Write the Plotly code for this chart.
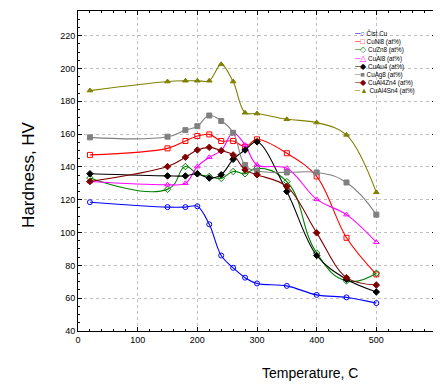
import plotly.graph_objects as go

temps = [20, 150, 180, 200, 220, 240, 260, 280, 300, 350, 400, 450, 500]

names = ["Čist Cu", "CuNi8 (at%)", "CuZn8 (at%)", "CuAl8 (at%)",
         "CuAu4 (at%)", "CuAg8 (at%)", "CuAl4Zn4 (at%)", "CuAl4Sn4 (at%)"]

cist_cu = [118.5, 115.5, 115.5, 116, 105, 86, 78.5, 72.5, 69, 67.5, 62, 60.5, 57]
cuni8 = [147.3, 151.3, 155.8, 158.8, 159.8, 155.8, 155.8, 152.3, 156.8, 148.3, 134.2, 96.8, 74.5]
cuzn8 = [133.2, 126.3, 140.2, 135.8, 134.2, 133, 137.2, 135.8, 139.2, 131, 87.5, 70.5, 75.2]
cual8 = [131.1, 129.1, 130, 140.2, 145.9, 149.9, 160.8, 153.3, 141.2, 139.2, 120.2, 110.9, 94.1]
cuau4 = [135.8, 134.5, 134.5, 135.8, 133.2, 135.2, 144.6, 150.3, 155.3, 125, 86, 71.5, 63.8]
cuag8 = [158, 158.4, 162.4, 164.8, 171.3, 168, 160.8, 141.2, 137.6, 136.6, 136.6, 130.5, 110.9]
cual4zn4 = [131.1, 140.2, 145.9, 150.3, 151.9, 149.9, 147.3, 138.2, 135.2, 128.1, 99.8, 72.5, 68]
cual4sn4 = [186.5, 192, 192.5, 192.5, 192.5, 202.5, 192, 173, 172.5, 169, 167, 159.5, 124.5]

series = [cist_cu, cuni8, cuzn8, cual8, cuau4, cuag8, cual4zn4, cual4sn4]
colors = ["#0000ff", "#ff0000", "#008000", "#ff00ff", "#000000", "#808080", "#800000", "#808000"]
symbols = ["circle-open", "square-open", "diamond-open", "triangle-up-open",
           "diamond", "square", "diamond", "triangle-up"]
legend_glyphs = ["○", "□", "◇", "△", "◆", "■", "◆", "▲"]
smooth = [1.0, 1.0, 1.3, 1.0, 1.0, 1.3, 1.0, 1.0]

fig = go.Figure()
for name, ys, c, s, sm in zip(names, series, colors, symbols, smooth):
    fig.add_trace(go.Scatter(
        x=temps, y=ys, name=name, mode="lines+markers", showlegend=False,
        line=dict(color=c, width=1.1, shape="spline", smoothing=sm),
        marker=dict(symbol=s, size=5, color=c, line=dict(color=c, width=1)),
    ))

axis_common = dict(
    showline=True, linecolor="#000", linewidth=1, mirror="allticks",
    ticks="inside", ticklen=4, tickcolor="#000",
    showgrid=True, gridcolor="#c0c0c0", griddash="dot", gridwidth=1,
    zeroline=False,
    tickfont=dict(family="Liberation Sans Narrow, Arial Narrow, Liberation Sans", size=9, color="#000"),
)

fig.update_xaxes(range=[0, 600], dtick=100, tick0=0,
                 minor=dict(ticks="inside", ticklen=2, dtick=20, tickcolor="#000", showgrid=False),
                 **axis_common)
fig.update_yaxes(range=[40, 235], dtick=20, tick0=40,
                 minor=dict(ticks="inside", ticklen=2, dtick=5, tickcolor="#000", showgrid=False),
                 **axis_common)

fig.add_annotation(text="Hardness, HV", textangle=-90, xref="paper", yref="paper",
                   x=-0.14, y=0.4875, xanchor="center", yanchor="middle", showarrow=False,
                   font=dict(family="Liberation Sans", size=17, color="#000"))
fig.add_annotation(text="Temperature, C", xref="paper", yref="paper",
                   x=0.648, y=-0.131, xanchor="center", yanchor="middle", showarrow=False,
                   font=dict(family="Liberation Sans", size=14, color="#000"))

# compact legend built from the series names/colours
legend_lines = [
    f"<span style='color:{c};font-size:7.5px'>─{g}</span> {n}"
    for n, c, g in zip(names, colors, legend_glyphs)
]
fig.add_annotation(text="<br>".join(legend_lines), xref="paper", yref="paper",
                   x=0.765, y=0.95, xanchor="left", yanchor="top", align="left",
                   showarrow=False,
                   font=dict(family="Liberation Sans", size=6.3, color="#000"))

fig.update_layout(
    width=433, height=376,
    margin=dict(l=70, r=5, t=3, b=53),
    plot_bgcolor="white", paper_bgcolor="white",
    showlegend=False,
)

fig.write_html("out.html")
